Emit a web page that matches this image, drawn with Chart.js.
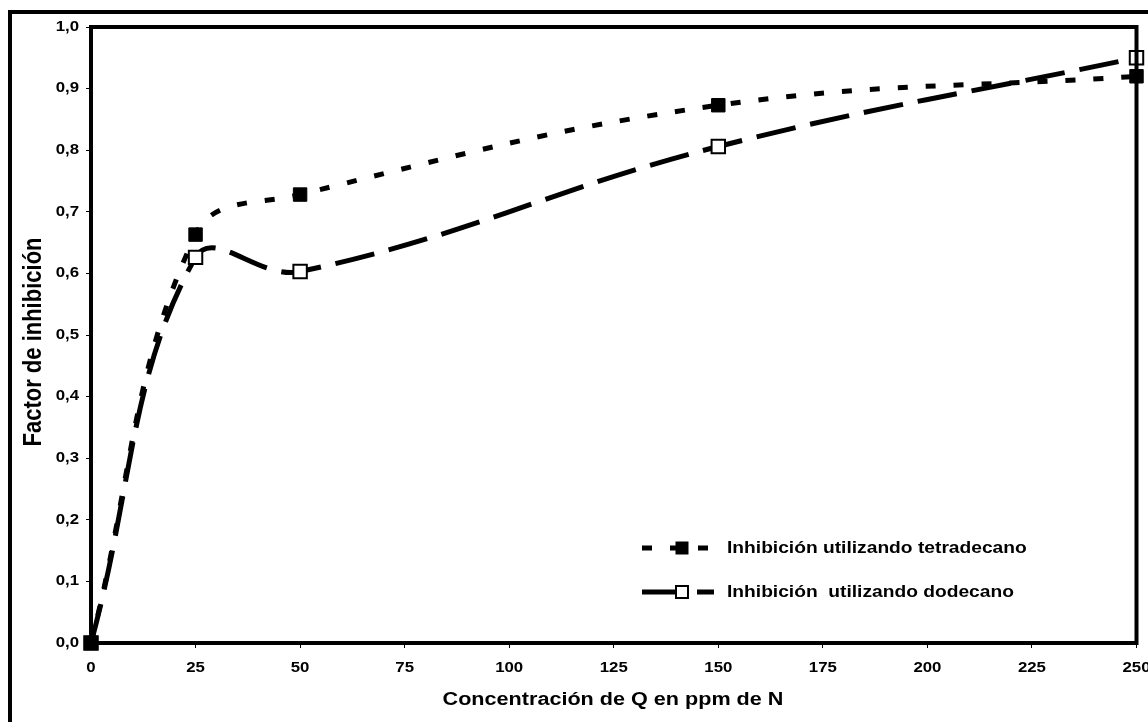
<!DOCTYPE html>
<html>
<head>
<meta charset="utf-8">
<script src="https://cdn.jsdelivr.net/npm/chart.js@4.4.1/dist/chart.umd.min.js"></script>
<style>
html,body{margin:0;padding:0;background:#fff;}
#wrap{width:1148px;height:722px;position:relative;}
</style>
</head>
<body>
<div id="wrap"><canvas id="c" width="1148" height="722"></canvas></div>
<script>
const xTicks = [0, 25, 50, 75, 100, 125, 150, 175, 200, 225, 250];
const yTicks = [0, 0.1, 0.2, 0.3, 0.4, 0.5, 0.6, 0.7, 0.8, 0.9, 1.0];
const concentrations = [0, 25, 50, 150, 250];
const tetradecano = [0, 0.663, 0.728, 0.873, 0.920];
const dodecano = [0, 0.626, 0.603, 0.806, 0.950];
const seriesNames = ['Inhibición utilizando tetradecano', 'Inhibición  utilizando dodecano'];
const xTitle = 'Concentración de Q en ppm de N';
const yTitle = 'Factor de inhibición';

const FONT = '"Liberation Sans", Arial, sans-serif';
const STRETCH = 1.2;

function stretchedText(ctx, text, x, y, size, align, rotate) {
  ctx.save();
  ctx.translate(x, y);
  ctx.scale(STRETCH, 1);
  if (rotate) ctx.rotate(-Math.PI / 2);
  ctx.font = 'bold ' + size + 'px ' + FONT;
  ctx.fillStyle = '#000';
  ctx.textAlign = align;
  ctx.textBaseline = 'middle';
  ctx.fillText(text, 0, 0);
  ctx.restore();
}

const frame = {
  id: 'frame',
  beforeDraw(chart) {
    const ctx = chart.ctx;
    ctx.save();
    ctx.fillStyle = '#fff';
    ctx.fillRect(0, 0, chart.width, chart.height);
    ctx.restore();
  },
  afterDatasetsDraw(chart) {
    const ctx = chart.ctx, a = chart.chartArea;
    const xs = chart.scales.x, ys = chart.scales.y;
    ctx.save();
    ctx.strokeStyle = '#000';
    ctx.lineWidth = 4;
    ctx.strokeRect(a.left, a.top, a.right - a.left, a.bottom - a.top);
    ctx.strokeRect(10, 12, chart.width + 20, chart.height + 20);

    // tick labels
    xTicks.forEach(v => stretchedText(ctx, String(v), xs.getPixelForValue(v), 668, 14, 'center'));
    yTicks.forEach(v => stretchedText(ctx, v.toFixed(1).replace('.', ','), 79, ys.getPixelForValue(v), 14, 'right'));
    // axis titles
    stretchedText(ctx, xTitle, 613, 700, 18, 'center');
    stretchedText(ctx, yTitle, 34, 342, 22, 'center', true);

    // legend
    const rows = [548, 592];
    chart.data.datasets.forEach((ds, i) => {
      const y = rows[i];
      ctx.save();
      ctx.strokeStyle = '#000';
      ctx.lineWidth = ds.borderWidth;
      ctx.setLineDash(ds.borderDash);
      ctx.beginPath();
      ctx.moveTo(642, y);
      ctx.lineTo(714, y);
      ctx.stroke();
      ctx.restore();
      ctx.save();
      ctx.fillStyle = ds.pointBackgroundColor;
      ctx.strokeStyle = '#000';
      ctx.lineWidth = ds.pointBorderWidth;
      const s = 6;
      ctx.fillRect(682 - s, y - s, 2 * s, 2 * s);
      ctx.strokeRect(682 - s, y - s, 2 * s, 2 * s);
      ctx.restore();
      stretchedText(ctx, ds.label, 727, y + 1, 16, 'left');
    });
    ctx.restore();
  }
};

new Chart(document.getElementById('c'), {
  type: 'line',
  data: {
    datasets: [
      {
        label: seriesNames[0],
        data: concentrations.map((x, i) => ({x, y: tetradecano[i]})),
        borderColor: '#000',
        borderWidth: 5,
        borderDash: [10, 18],
        borderCapStyle: 'butt',
        pointStyle: 'rect',
        pointRadius: 9.5,
        pointBackgroundColor: '#000',
        pointBorderColor: '#000',
        pointBorderWidth: 1,
        tension: 0.4,
        clip: false,
        fill: false
      },
      {
        label: seriesNames[1],
        data: concentrations.map((x, i) => ({x, y: dodecano[i]})),
        borderColor: '#000',
        borderWidth: 5,
        borderDash: [40, 15],
        borderCapStyle: 'butt',
        pointStyle: 'rect',
        pointRadius: 9.5,
        pointBackgroundColor: '#fff',
        pointBorderColor: '#000',
        pointBorderWidth: 2,
        tension: 0.4,
        clip: false,
        fill: false
      }
    ]
  },
  options: {
    responsive: false,
    animation: false,
    devicePixelRatio: 1,
    layout: { padding: { left: 0, top: 27, right: 6, bottom: 0 } },
    plugins: { legend: { display: false }, tooltip: { enabled: false } },
    scales: {
      x: {
        type: 'linear',
        min: 0, max: 250,
        afterBuildTicks(scale) { scale.ticks = xTicks.map(v => ({value: v})); },
        afterFit(scale) { scale.height = 722 - 643; scale.paddingLeft = 0; scale.paddingRight = 0; },
        grid: { drawOnChartArea: false, drawTicks: true, tickLength: 5, color: '#000', lineWidth: 1 },
        border: { display: true, color: '#000', width: 4 },
        ticks: { display: false },
        title: { display: false }
      },
      y: {
        min: 0, max: 1,
        afterBuildTicks(scale) { scale.ticks = yTicks.map(v => ({value: v})); },
        afterFit(scale) { scale.width = 91; scale.paddingTop = 0; scale.paddingBottom = 0; },
        grid: { drawOnChartArea: false, drawTicks: true, tickLength: 5, color: '#000', lineWidth: 1 },
        border: { display: true, color: '#000', width: 4 },
        ticks: { display: false },
        title: { display: false }
      }
    }
  },
  plugins: [frame]
});
</script>
</body>
</html>
